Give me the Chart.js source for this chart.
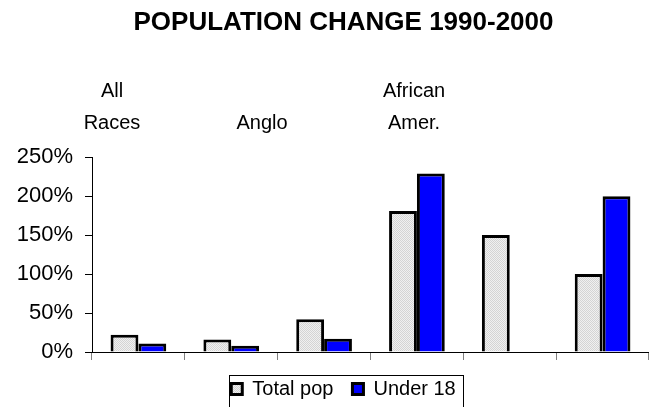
<!DOCTYPE html>
<html lang="en">
<head>
<meta charset="UTF-8">
<title>Population change 1990-2000</title>
<script src="https://cdn.jsdelivr.net/npm/chart.js"></script>
<style>
  html, body { margin: 0; padding: 0; background: #fff; }
  #wrap { width: 649px; height: 407px; position: relative; }
</style>
</head>
<body>
<div id="wrap"><canvas id="popChart"></canvas></div>
<script>
    // six groups, only three of them are named in the picture
    const categories = ['g1', 'g2', 'g3', 'g4', 'g5', 'g6'];
    const totalPop = [22, 16, 42, 181, 150, 100];
    const under18 = [11, 8, 17, 229, null, 200];
    const yTicks = [0, 50, 100, 150, 200, 250];
    const headerLabels = [['All', 'Races'], ['Anglo'], ['African', 'Amer.']];
    const seriesNames = ['Total pop', 'Under 18'];

    Chart.defaults.font.family = '"Liberation Sans", Arial, sans-serif';
    Chart.defaults.color = '#000';

    // small dotted fill like the old spreadsheet pattern
    function dotPattern() {
        const c = document.createElement('canvas');
        c.width = 2; c.height = 2;
        const g = c.getContext('2d');
        g.fillStyle = '#f0f0f0';
        g.fillRect(0, 0, 2, 2);
        g.fillStyle = '#d4d4d4';
        g.fillRect(0, 0, 1, 1);
        g.fillRect(1, 1, 1, 1);
        return g.createPattern(c, 'repeat');
    }

    // group names written above the plot
    const headerText = {
        id: 'headerText',
        afterDraw(chart) {
            const ctx = chart.ctx;
            const xs = [112, 262, 414];
            ctx.save();
            ctx.font = '20px "Liberation Sans", Arial, sans-serif';
            ctx.fillStyle = '#000';
            ctx.textAlign = 'center';
            ctx.textBaseline = 'alphabetic';
            headerLabels.forEach((lines, i) => {
                const y0 = 129 - (lines.length - 1) * 32;
                lines.forEach((t, j) => ctx.fillText(t, xs[i], y0 + j * 32));
            });
            ctx.restore();
        }
    };

    // let the y tick labels run into the left padding (they are clipped to the scale box otherwise)
    const widenY = {
        id: 'widenY',
        afterLayout(chart) {
            const y = chart.scales.y;
            y.left = 0;
            y.width = y.right;
        }
    };

    // frame round the legend
    const legendFrame = {
        id: 'legendFrame',
        afterDraw(chart) {
            const boxes = chart.legend.legendHitBoxes;
            if (!boxes || !boxes.length) return;
            const first = boxes[0], last = boxes[boxes.length - 1];
            const l = Math.round(first.left - 2), r = Math.round(last.left + last.width + 7);
            const t = Math.round(first.top - 4);
            const ctx = chart.ctx;
            ctx.save();
            ctx.strokeStyle = '#000';
            ctx.lineWidth = 1;
            ctx.strokeRect(l + 0.5, t + 0.5, r - l, 60);
            ctx.restore();
        }
    };

    new Chart(document.getElementById('popChart'), {
        type: 'bar',
        data: {
            labels: categories,
            datasets: [
                {
                    label: seriesNames[0],
                    data: totalPop,
                    backgroundColor: dotPattern(),
                    borderColor: '#000',
                    borderWidth: 3
                },
                {
                    label: seriesNames[1],
                    data: under18,
                    backgroundColor: '#0000ff',
                    borderColor: '#000',
                    borderWidth: 3
                }
            ]
        },
        options: {
            responsive: true,
            maintainAspectRatio: false,
            animation: false,
            categoryPercentage: 0.6,
            barPercentage: 1.0,
            layout: { padding: { left: 38, right: 0, top: 0, bottom: -2 } },
            plugins: {
                title: {
                    display: true,
                    text: 'POPULATION CHANGE 1990-2000',
                    font: { size: 26, weight: 'bold' },
                    color: '#000',
                    padding: { top: 7, bottom: 119 }
                },
                legend: {
                    position: 'bottom',
                    labels: {
                        boxWidth: 11,
                        boxHeight: 11,
                        padding: 19,
                        font: { size: 20 },
                        color: '#000'
                    }
                },
                tooltip: { enabled: false }
            },
            scales: {
                x: {
                    grid: { drawOnChartArea: false, drawTicks: true, tickLength: 8, color: '#808080', offset: true },
                    border: { color: '#000', width: 1 },
                    ticks: { display: false }
                },
                y: {
                    min: 0,
                    max: 250,
                    afterBuildTicks: s => { s.ticks = yTicks.map(v => ({ value: v })); },
                    afterFit: s => { s.width = 54; },
                    grid: { drawOnChartArea: false, drawTicks: true, tickLength: 7, color: '#000' },
                    border: { color: '#000', width: 1 },
                    ticks: {
                        padding: 12,
                        font: { size: 22 },
                        callback: v => v + '%'
                    }
                }
            }
        },
        plugins: [headerText, widenY, legendFrame]
    });
</script>
</body>
</html>
